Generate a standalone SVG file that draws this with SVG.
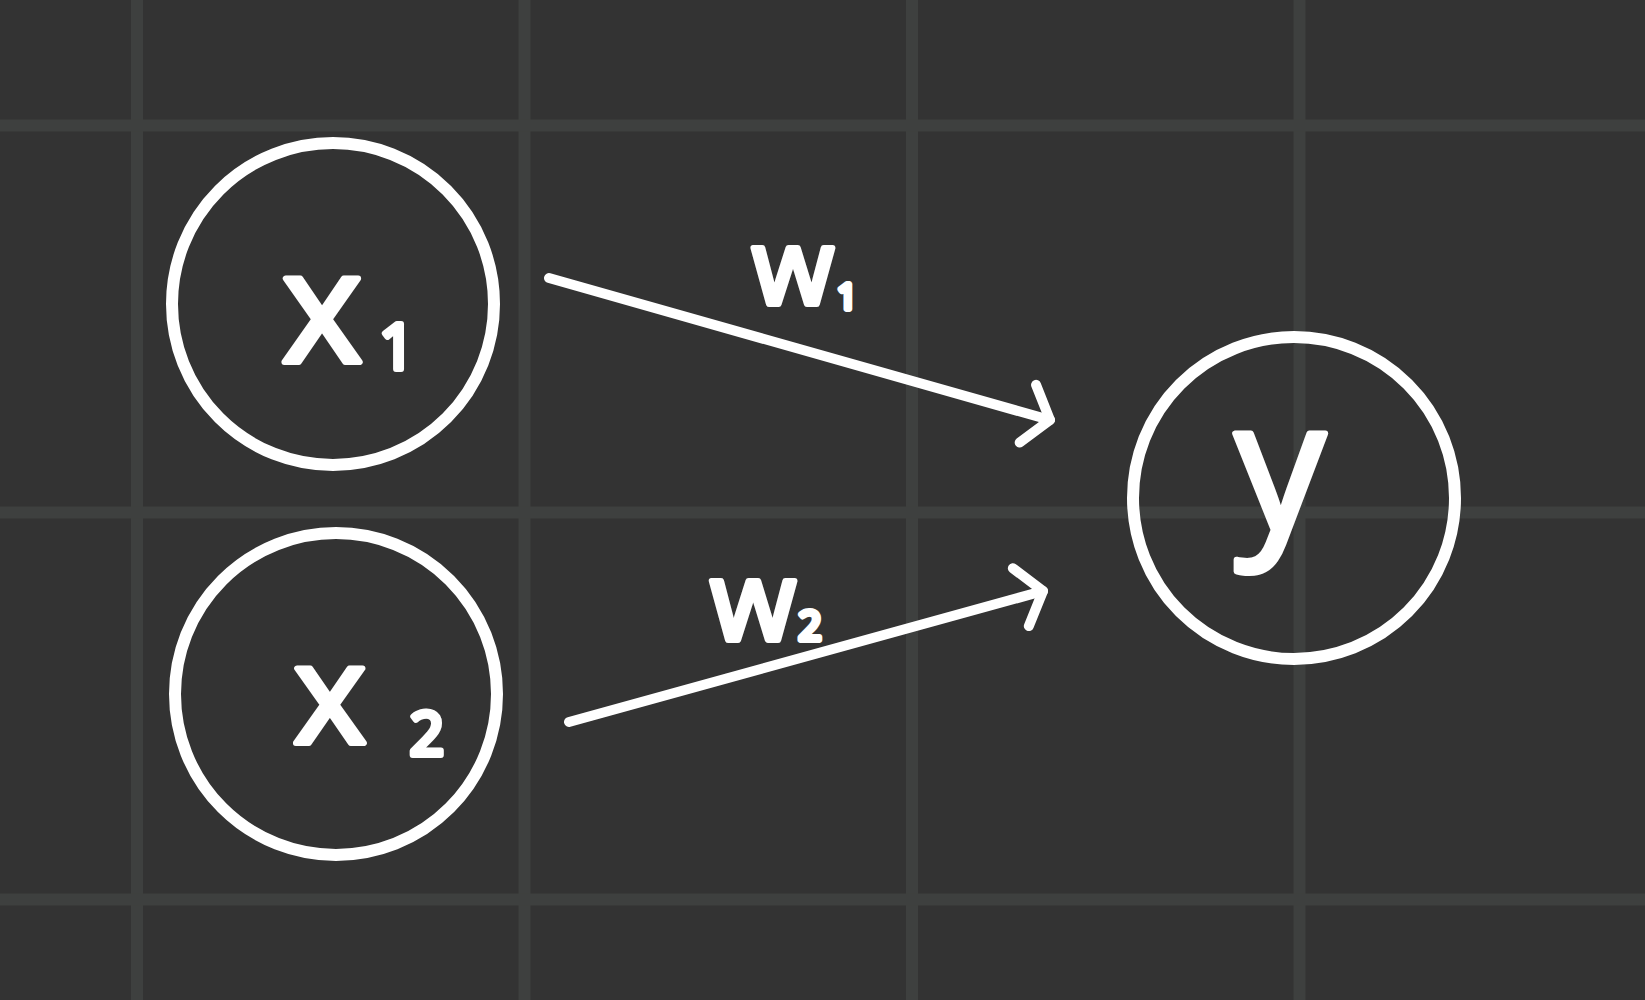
<svg xmlns="http://www.w3.org/2000/svg" width="1645" height="1000" viewBox="0 0 1645 1000">
  <style>
    .grid { stroke: #3e403f; stroke-width: 12; }
    .node { fill: none; stroke: #ffffff; stroke-width: 12; }
    .edge { fill: none; stroke: #ffffff; stroke-width: 10; stroke-linecap: round; }
    .hand { fill: #ffffff; stroke: #ffffff; stroke-width: 6; stroke-linejoin: round; font-family: "Open Sans", "DejaVu Sans", sans-serif; text-anchor: middle; }
  </style>
  <defs>
    <marker id="arrow" markerUnits="userSpaceOnUse" viewBox="-40 -40 50 80" markerWidth="50" markerHeight="80" refX="0" refY="0" orient="auto">
      <path d="M -23,-30 L 0,0 L -23,30" fill="none" stroke="#ffffff" stroke-width="10" stroke-linecap="round" stroke-linejoin="round"/>
    </marker>
  </defs>
  <rect x="0" y="0" width="1645" height="1000" fill="#333333"/>
  <g id="grid">
    <line class="grid" x1="137" y1="0" x2="137" y2="1000"/>
    <line class="grid" x1="524.5" y1="0" x2="524.5" y2="1000"/>
    <line class="grid" x1="912" y1="0" x2="912" y2="1000"/>
    <line class="grid" x1="1299.5" y1="0" x2="1299.5" y2="1000"/>
    <line class="grid" x1="0" y1="125.5" x2="1645" y2="125.5"/>
    <line class="grid" x1="0" y1="512.5" x2="1645" y2="512.5"/>
    <line class="grid" x1="0" y1="899.5" x2="1645" y2="899.5"/>
  </g>
  <g id="connectors">
    <line class="edge" x1="549" y1="278" x2="1050" y2="420" marker-end="url(#arrow)"/>
    <text class="hand" x="793" y="304" font-size="105">w</text>
    <text class="hand" x="847" y="309" font-size="34">1</text>
    <line class="edge" x1="569" y1="722" x2="1043" y2="591" marker-end="url(#arrow)"/>
    <text class="hand" x="753" y="640" font-size="110">w</text>
    <text class="hand" x="810" y="640" font-size="40">2</text>
  </g>
  <g id="node-x1">
    <circle class="node" cx="333" cy="304" r="161"/>
    <text class="hand" x="322" y="362" font-size="155">x</text>
    <text class="hand" x="397" y="369" font-size="62">1</text>
  </g>
  <g id="node-x2">
    <circle class="node" cx="336" cy="694" r="161"/>
    <text class="hand" x="330" y="743" font-size="140">x</text>
    <text class="hand" x="427" y="755" font-size="60">2</text>
  </g>
  <g id="node-y">
    <circle class="node" cx="1294" cy="498" r="161"/>
    <text class="hand" x="1280" y="530" font-size="180">y</text>
  </g>
</svg>
